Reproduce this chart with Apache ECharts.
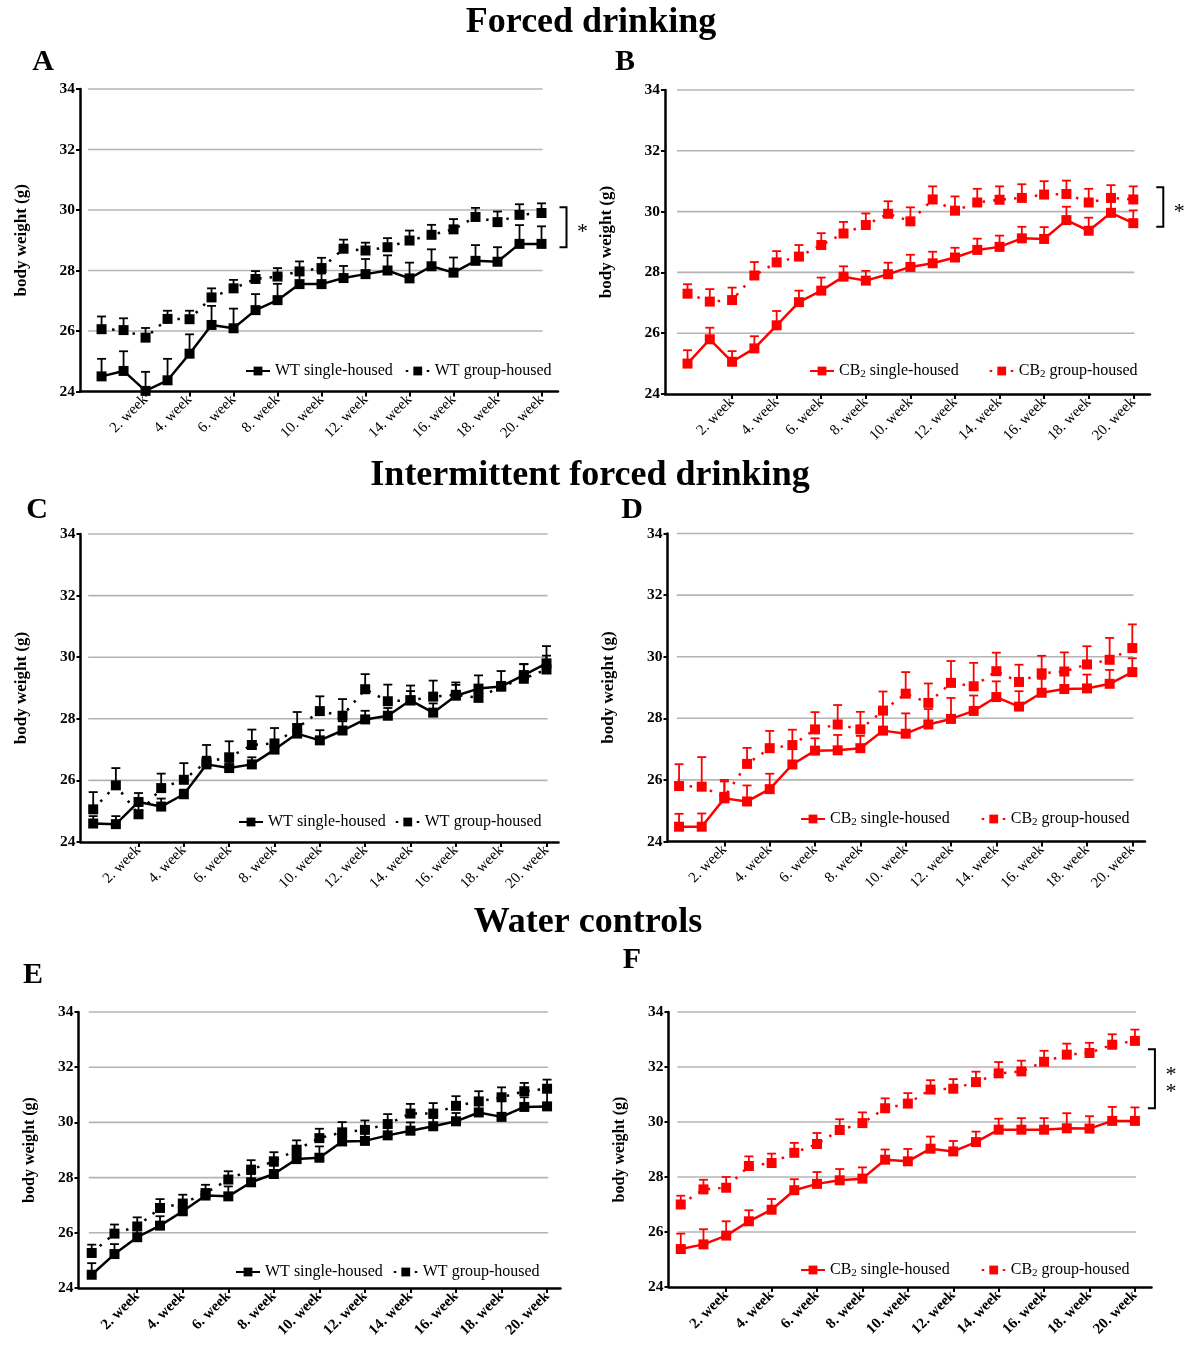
<!DOCTYPE html>
<html lang="en" style="height: 100%">
<head>
<meta charset="utf-8">
<title>Body weight - forced drinking, intermittent forced drinking, water controls</title>
</head>
<body style="height: 100%; margin: 0; background: #ffffff">
<div id="container" style="width: 1189px; height: 1351px"></div>

<script type="text/javascript" src="https://cdn.jsdelivr.net/npm/echarts/dist/echarts.min.js"></script>

<script type="text/javascript">

var dom = document.getElementById('container');
var myChart = echarts.init(dom, null, { renderer: 'canvas' });

// x: week 0..20, labels only on even weeks
var weeks = [0, 1, 2, 3, 4, 5, 6, 7, 8, 9, 10, 11, 12, 13, 14, 15, 16, 17, 18, 19, 20];
var weekTicks = [2, 4, 6, 8, 10, 12, 14, 16, 18, 20];
var yTicks = [24, 26, 28, 30, 32, 34];

var wtNames = ['WT single-housed', 'WT group-housed'];
var cbNames = ['CB2 single-housed', 'CB2 group-housed'];

// A - forced drinking, WT
var fdWtSingle = [24.5, 24.68, 24.02, 24.37, 25.25, 26.2, 26.09, 26.69, 27.02, 27.55, 27.55, 27.75, 27.88, 28.0, 27.74, 28.14, 27.93, 28.32, 28.29, 28.88, 28.88];
var fdWtSingleSem = [0.58, 0.65, 0.63, 0.71, 0.64, 0.63, 0.65, 0.53, 0.54, 0.35, 0.35, 0.4, 0.5, 0.5, 0.52, 0.56, 0.5, 0.52, 0.48, 0.62, 0.58];
var fdWtGroup = [26.06, 26.03, 25.78, 26.4, 26.39, 27.11, 27.41, 27.72, 27.8, 27.97, 28.08, 28.72, 28.66, 28.77, 28.99, 29.18, 29.36, 29.77, 29.6, 29.84, 29.9];
var fdWtGroupSem = [0.42, 0.39, 0.32, 0.27, 0.28, 0.3, 0.28, 0.26, 0.28, 0.33, 0.34, 0.3, 0.26, 0.3, 0.33, 0.33, 0.34, 0.3, 0.35, 0.35, 0.32];

// B - forced drinking, CB2
var fdCbSingle = [25.0, 25.8, 25.06, 25.5, 26.26, 27.02, 27.4, 27.86, 27.73, 27.94, 28.18, 28.3, 28.49, 28.74, 28.84, 29.12, 29.1, 29.72, 29.37, 29.96, 29.62];
var fdCbSingleSem = [0.44, 0.38, 0.35, 0.4, 0.47, 0.38, 0.43, 0.34, 0.32, 0.38, 0.4, 0.38, 0.32, 0.37, 0.37, 0.38, 0.39, 0.44, 0.43, 0.37, 0.42];
var fdCbGroup = [27.3, 27.04, 27.09, 27.9, 28.33, 28.52, 28.9, 29.28, 29.56, 29.93, 29.68, 30.4, 30.03, 30.3, 30.39, 30.45, 30.56, 30.58, 30.3, 30.45, 30.4];
var fdCbGroupSem = [0.31, 0.41, 0.41, 0.44, 0.37, 0.38, 0.39, 0.38, 0.38, 0.41, 0.46, 0.43, 0.47, 0.45, 0.44, 0.45, 0.44, 0.44, 0.45, 0.42, 0.43];

// C - intermittent forced drinking, WT
var ifdWtSingle = [24.6, 24.58, 25.3, 25.15, 25.55, 26.52, 26.4, 26.52, 27.0, 27.52, 27.3, 27.62, 27.98, 28.1, 28.6, 28.2, 28.75, 28.98, 29.05, 29.42, 29.8];
var ifdWtSingleSem = [0.24, 0.26, 0.29, 0.26, 0.15, 0.25, 0.2, 0.23, 0.25, 0.3, 0.33, 0.3, 0.28, 0.25, 0.3, 0.3, 0.35, 0.43, 0.15, 0.35, 0.56];
var ifdWtGroup = [25.06, 25.84, 24.9, 25.75, 26.02, 26.6, 26.75, 27.15, 27.2, 27.7, 28.25, 28.1, 28.96, 28.57, 28.6, 28.72, 28.78, 28.68, 29.05, 29.3, 29.6];
var ifdWtGroupSem = [0.56, 0.56, 0.3, 0.47, 0.54, 0.55, 0.52, 0.5, 0.5, 0.52, 0.48, 0.54, 0.49, 0.54, 0.48, 0.52, 0.4, 0.4, 0.5, 0.48, 0.45];

// D - intermittent forced drinking, CB2
var ifdCbSingle = [24.48, 24.48, 25.4, 25.3, 25.7, 26.5, 26.95, 26.96, 27.03, 27.6, 27.5, 27.8, 27.98, 28.24, 28.69, 28.38, 28.83, 28.95, 28.97, 29.12, 29.5];
var ifdCbSingleSem = [0.42, 0.43, 0.6, 0.52, 0.5, 0.5, 0.4, 0.5, 0.4, 0.55, 0.66, 0.5, 0.68, 0.5, 0.51, 0.5, 0.45, 0.45, 0.45, 0.45, 0.45];
var ifdCbGroup = [25.8, 25.78, 25.45, 26.52, 27.03, 27.13, 27.64, 27.8, 27.64, 28.25, 28.8, 28.5, 29.15, 29.04, 29.53, 29.18, 29.46, 29.52, 29.75, 29.9, 30.28];
var ifdCbGroupSem = [0.71, 0.96, 0.5, 0.52, 0.56, 0.5, 0.56, 0.63, 0.57, 0.62, 0.7, 0.63, 0.71, 0.76, 0.6, 0.56, 0.57, 0.62, 0.59, 0.71, 0.77];

// E - water controls, WT
var wcWtSingle = [24.48, 25.23, 25.84, 26.26, 26.78, 27.35, 27.32, 27.83, 28.13, 28.67, 28.72, 29.31, 29.33, 29.53, 29.7, 29.86, 30.04, 30.36, 30.2, 30.56, 30.58];
var wcWtSingleSem = [0.42, 0.36, 0.38, 0.34, 0.3, 0.2, 0.36, 0.3, 0.3, 0.3, 0.41, 0.3, 0.3, 0.3, 0.3, 0.3, 0.3, 0.3, 0.7, 0.35, 0.6];
var wcWtGroup = [25.27, 25.97, 26.23, 26.9, 27.06, 27.44, 27.93, 28.29, 28.59, 29.01, 29.43, 29.64, 29.73, 29.94, 30.32, 30.32, 30.6, 30.76, 30.91, 31.13, 31.22];
var wcWtGroupSem = [0.3, 0.33, 0.33, 0.32, 0.32, 0.3, 0.3, 0.34, 0.33, 0.34, 0.34, 0.37, 0.34, 0.36, 0.35, 0.38, 0.35, 0.37, 0.36, 0.3, 0.33];

// F - water controls, CB2
var wcCbSingle = [25.38, 25.55, 25.87, 26.39, 26.81, 27.52, 27.75, 27.88, 27.94, 28.63, 28.57, 29.03, 28.93, 29.27, 29.72, 29.72, 29.72, 29.77, 29.76, 30.04, 30.04];
var wcCbSingleSem = [0.56, 0.55, 0.52, 0.4, 0.39, 0.4, 0.43, 0.41, 0.41, 0.37, 0.45, 0.44, 0.38, 0.38, 0.4, 0.42, 0.42, 0.55, 0.45, 0.51, 0.49];
var wcCbGroup = [27.0, 27.55, 27.61, 28.4, 28.51, 28.88, 29.2, 29.71, 29.96, 30.5, 30.67, 31.18, 31.21, 31.45, 31.77, 31.84, 32.19, 32.45, 32.51, 32.81, 32.95];
var wcCbGroupSem = [0.32, 0.35, 0.39, 0.35, 0.34, 0.36, 0.4, 0.39, 0.39, 0.36, 0.38, 0.34, 0.35, 0.38, 0.41, 0.39, 0.4, 0.4, 0.37, 0.38, 0.41];

// significance brackets [top, bottom] and stars
var bracketA = [30.09, 28.77];
var bracketB = [30.8, 29.5];
var bracketF = [32.65, 30.5];

var serif = '"Liberation Serif", "DejaVu Serif", serif';
var red = '#ff0000';

var panels = [
    { single: fdWtSingle, singleSem: fdWtSingleSem, group: fdWtGroup, groupSem: fdWtGroupSem, names: wtNames, color: '#000',
      grid: { left: 80, top: 89, width: 478, height: 302.5 }, xMin: -0.98, xMax: 20.75, gridFrom: -0.62,
      nameGap: 50, nameSize: 17, boldX: false, legend: { left: 240, top: 358, itemGap: 12 },
      bracket: bracketA, stars: '*', bracketOffset: 25 },
    { single: fdCbSingle, singleSem: fdCbSingleSem, group: fdCbGroup, groupSem: fdCbGroupSem, names: cbNames, color: red,
      grid: { left: 665, top: 90, width: 485, height: 304 }, xMin: -1.01, xMax: 20.75, gridFrom: -0.47,
      nameGap: 50, nameSize: 17, boldX: false, legend: { left: 804, top: 358, itemGap: 30 },
      bracket: bracketB, stars: '*', bracketOffset: 30 },
    { single: ifdWtSingle, singleSem: ifdWtSingleSem, group: ifdWtGroup, groupSem: ifdWtGroupSem, names: wtNames, color: '#000',
      grid: { left: 80.5, top: 534, width: 478, height: 308 }, xMin: -0.56, xMax: 20.53, gridFrom: -0.22,
      nameGap: 50, nameSize: 17, boldX: false, legend: { left: 233, top: 809, itemGap: 9 } },
    { single: ifdCbSingle, singleSem: ifdCbSingleSem, group: ifdCbGroup, groupSem: ifdCbGroupSem, names: cbNames, color: red,
      grid: { left: 667.5, top: 533.5, width: 477.5, height: 308 }, xMin: -0.51, xMax: 20.56, gridFrom: -0.1,
      nameGap: 50, nameSize: 17, boldX: false, legend: { left: 795, top: 806, itemGap: 31 } },
    { single: wcWtSingle, singleSem: wcWtSingleSem, group: wcWtGroup, groupSem: wcWtGroupSem, names: wtNames, color: '#000',
      grid: { left: 78.5, top: 1012, width: 482, height: 276 }, xMin: -0.58, xMax: 20.59, gridFrom: -0.13,
      nameGap: 41, nameSize: 16, boldX: true, legend: { left: 230, top: 1259, itemGap: 10 } },
    { single: wcCbSingle, singleSem: wcCbSingleSem, group: wcCbGroup, groupSem: wcCbGroupSem, names: cbNames, color: red,
      grid: { left: 668.5, top: 1012, width: 483, height: 275 }, xMin: -0.54, xMax: 20.73, gridFrom: -0.15,
      nameGap: 41, nameSize: 16, boldX: true, legend: { left: 795, top: 1257, itemGap: 31 },
      bracket: bracketF, stars: '*\n*', bracketOffset: 20 }
];

var grids = [], xAxes = [], yAxes = [], legends = [], series = [];

function errorBars(idx, means, sems, color, z) {
    return {
        type: 'custom', xAxisIndex: idx, yAxisIndex: idx, z: z, silent: true, clip: false,
        encode: { x: 0, y: [1, 2] },
        data: means.map(function (m, i) { return [weeks[i], m, m + sems[i]]; }),
        renderItem: function (params, api) {
            var a = api.coord([api.value(0), api.value(1)]);
            var b = api.coord([api.value(0), api.value(2)]);
            var st = { stroke: color, lineWidth: 1.8 };
            return { type: 'group', children: [
                { type: 'line', shape: { x1: a[0], y1: a[1], x2: b[0], y2: b[1] }, style: st },
                { type: 'line', shape: { x1: b[0] - 4.5, y1: b[1], x2: b[0] + 4.5, y2: b[1] }, style: st }
            ] };
        }
    };
}

panels.forEach(function (p, i) {
    grids.push(p.grid);
    xAxes.push({
        type: 'value', gridIndex: i, min: p.xMin, max: p.xMax,
        axisLine: { show: true, onZero: false, lineStyle: { color: '#000', width: 2.5 } },
        axisTick: { show: true, customValues: weekTicks, length: 5, lineStyle: { color: '#000', width: 2 } },
        axisLabel: {
            customValues: weekTicks, rotate: 45, margin: 6, color: '#000',
            fontFamily: serif, fontSize: 15, fontWeight: p.boldX ? 'bold' : 'normal',
            formatter: function (v) { return v + '. week'; }
        },
        splitLine: { show: false }
    });
    yAxes.push({
        type: 'value', gridIndex: i, min: 24, max: 34, interval: 2,
        name: 'body weight (g)', nameLocation: 'middle', nameGap: p.nameGap,
        nameTextStyle: { fontFamily: serif, fontSize: p.nameSize, fontWeight: 'bold', color: '#000' },
        axisLine: { show: true, onZero: false, lineStyle: { color: '#000', width: 2.5 } },
        axisTick: { show: true, length: 4, lineStyle: { color: '#000', width: 2 } },
        axisLabel: { margin: 5, color: '#000', fontFamily: serif, fontSize: 15.5, fontWeight: 'bold' },
        splitLine: { show: false }
    });
    legends.push({
        data: p.names, left: p.legend.left, top: p.legend.top, itemGap: p.legend.itemGap,
        itemWidth: 24, itemHeight: 11, selectedMode: false,
        textStyle: {
            fontFamily: serif, fontSize: 16, color: '#000',
            rich: { sub: { fontFamily: serif, fontSize: 11, color: '#000', padding: [7, 0, 0, 0] } }
        },
        formatter: function (name) { return name.replace('CB2', 'CB{sub|2}'); }
    });

    // grey horizontal grid lines (they stop short of the axis ends)
    series.push({
        type: 'custom', xAxisIndex: i, yAxisIndex: i, z: 1, silent: true,
        data: yTicks.slice(1).map(function (v) { return [v]; }),
        renderItem: function (params, api) {
            var a = api.coord([p.gridFrom, api.value(0)]);
            var b = api.coord([20.05, api.value(0)]);
            return { type: 'line', shape: { x1: a[0], y1: a[1], x2: b[0], y2: b[1] },
                     style: { stroke: '#b4b4b4', lineWidth: 1.6 } };
        }
    });

    series.push(errorBars(i, p.single, p.singleSem, p.color, 2));
    series.push(errorBars(i, p.group, p.groupSem, p.color, 2));

    series.push({
        name: p.names[0], type: 'line', xAxisIndex: i, yAxisIndex: i, z: 3,
        data: weeks.map(function (w, k) { return [w, p.single[k]]; }),
        symbol: 'rect', symbolSize: 10, showSymbol: true,
        itemStyle: { color: p.color },
        lineStyle: { color: p.color, width: 2.5 },
        animation: false
    });
    series.push({
        name: p.names[1], type: 'line', xAxisIndex: i, yAxisIndex: i, z: 4,
        data: weeks.map(function (w, k) { return [w, p.group[k]]; }),
        symbol: 'rect', symbolSize: 10, showSymbol: true,
        itemStyle: { color: p.color },
        lineStyle: { color: p.color, width: 2.5, type: [2.5, 8] },
        animation: false
    });

    if (p.bracket) {
        series.push({
            type: 'custom', xAxisIndex: i, yAxisIndex: i, z: 5, silent: true, clip: false,
            data: [[20, p.bracket[0], p.bracket[1]]],
            renderItem: function (params, api) {
                var a = api.coord([api.value(0), api.value(1)]);
                var b = api.coord([api.value(0), api.value(2)]);
                var x = a[0] + p.bracketOffset;
                return { type: 'group', children: [
                    { type: 'polyline', shape: { points: [[x - 7, a[1]], [x, a[1]], [x, b[1]], [x - 7, b[1]]] },
                      style: { stroke: '#000', lineWidth: 2, fill: null } },
                    { type: 'text', x: x + 16, y: (a[1] + b[1]) / 2 + 5,
                      style: { text: p.stars, font: '22px ' + serif, fill: '#000', align: 'center',
                               verticalAlign: 'middle', lineHeight: 17 } }
                ] };
            }
        });
    }
});

var titleFont = 'bold 36px ' + serif;
var letterFont = 'bold 30px ' + serif;
var texts = [
    ['Forced drinking', 591, 23, titleFont],
    ['Intermittent forced drinking', 590, 476, titleFont],
    ['Water controls', 588, 923, titleFont],
    ['A', 43, 62, letterFont], ['B', 625, 62, letterFont],
    ['C', 37, 510, letterFont], ['D', 632, 510, letterFont],
    ['E', 33, 975, letterFont], ['F', 632, 960, letterFont]
];

var option = {
    backgroundColor: '#ffffff',
    animation: false,
    grid: grids,
    xAxis: xAxes,
    yAxis: yAxes,
    legend: legends,
    series: series,
    graphic: texts.map(function (t) {
        return { type: 'text', x: t[1], y: t[2], silent: true,
                 style: { text: t[0], font: t[3], fill: '#000', align: 'center', verticalAlign: 'middle' } };
    })
};

myChart.setOption(option);
window.addEventListener('resize', myChart.resize);
</script>
</body>
</html>
